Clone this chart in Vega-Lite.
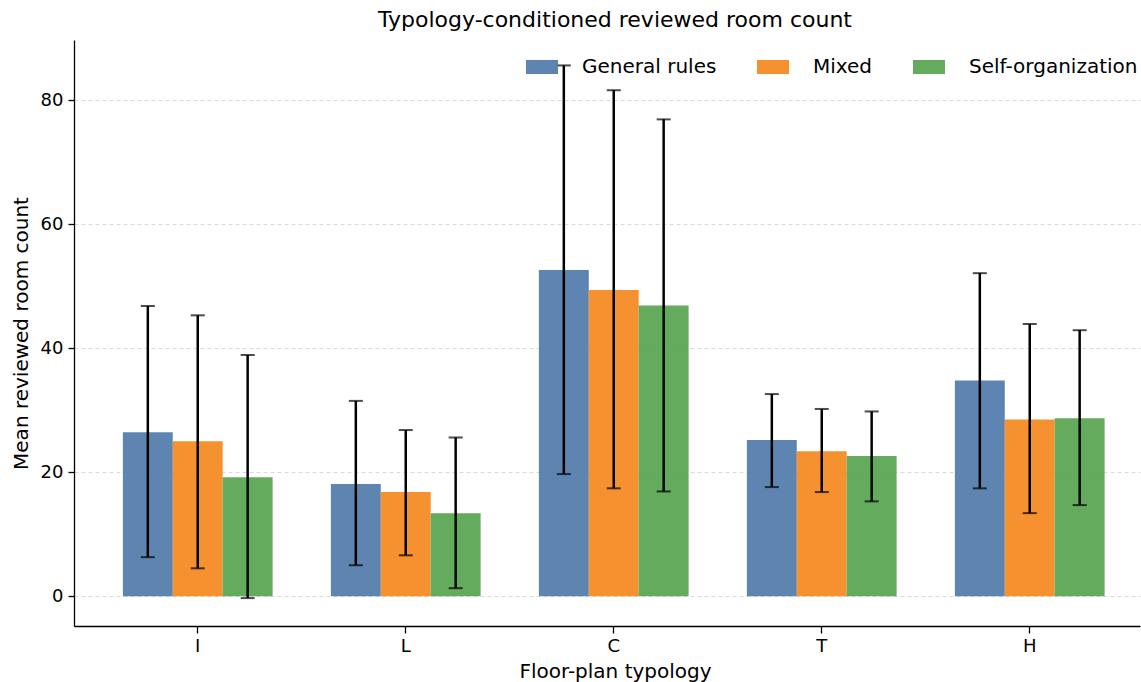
{
  "$schema": "https://vega.github.io/schema/vega-lite/v6.json",
  "width": 1066,
  "height": 586,
  "autosize": {"type": "none"},
  "padding": {"left": 74, "top": 40, "right": 1, "bottom": 56},
  "background": "white",
  "config": {
    "view": {"stroke": null},
    "font": "DejaVu Sans",
    "axis": {"labelFont": "DejaVu Sans", "titleFont": "DejaVu Sans", "labelColor": "#000", "titleColor": "#000", "domainColor": "#000", "tickColor": "#000", "titleFontWeight": "normal"},
    "legend": {"labelFont": "DejaVu Sans"}
  },
  "title": {"text": "Typology-conditioned reviewed room count", "fontSize": 22, "fontWeight": "normal", "font": "DejaVu Sans", "color": "#000", "offset": 8, "anchor": "middle", "dx": 8},
  "data": {
    "values": [
      {"typology": "I", "group": "General rules", "mean": 26.45, "lo": 6.3, "hi": 46.8},
      {"typology": "I", "group": "Mixed", "mean": 25.0, "lo": 4.5, "hi": 45.3},
      {"typology": "I", "group": "Self-organization", "mean": 19.2, "lo": -0.3, "hi": 38.9},
      {"typology": "L", "group": "General rules", "mean": 18.1, "lo": 5.0, "hi": 31.5},
      {"typology": "L", "group": "Mixed", "mean": 16.8, "lo": 6.6, "hi": 26.8},
      {"typology": "L", "group": "Self-organization", "mean": 13.4, "lo": 1.3, "hi": 25.6},
      {"typology": "C", "group": "General rules", "mean": 52.6, "lo": 19.7, "hi": 85.6},
      {"typology": "C", "group": "Mixed", "mean": 49.4, "lo": 17.4, "hi": 81.6},
      {"typology": "C", "group": "Self-organization", "mean": 46.9, "lo": 16.9, "hi": 76.9},
      {"typology": "T", "group": "General rules", "mean": 25.2, "lo": 17.6, "hi": 32.6},
      {"typology": "T", "group": "Mixed", "mean": 23.4, "lo": 16.8, "hi": 30.2},
      {"typology": "T", "group": "Self-organization", "mean": 22.6, "lo": 15.3, "hi": 29.8},
      {"typology": "H", "group": "General rules", "mean": 34.8, "lo": 17.4, "hi": 52.1},
      {"typology": "H", "group": "Mixed", "mean": 28.5, "lo": 13.4, "hi": 43.9},
      {"typology": "H", "group": "Self-organization", "mean": 28.7, "lo": 14.7, "hi": 42.9}
    ]
  },
  "encoding": {
    "x": {
      "field": "typology", "type": "nominal", "sort": ["I", "L", "C", "T", "H"],
      "scale": {"paddingInner": 0.28, "paddingOuter": 0.2025, "align": 0.58},
      "axis": {"title": "Floor-plan typology", "titleX": 541, "labelAngle": 0, "labelFontSize": 18, "titleFontSize": 20, "tickSize": 7, "labelPadding": 4, "titlePadding": 6, "grid": false, "domainWidth": 1.3, "tickWidth": 1.3}
    },
    "xOffset": {"field": "group", "type": "nominal", "sort": ["General rules", "Mixed", "Self-organization"], "scale": {"paddingInner": 0, "paddingOuter": 0}}
  },
  "layer": [
    {
      "mark": {"type": "bar", "opacity": 0.9},
      "encoding": {
        "y": {
          "field": "mean", "type": "quantitative",
          "scale": {"domain": [-4.8, 89.7], "nice": false, "zero": false},
          "axis": {"title": "Mean reviewed room count", "values": [0, 20, 40, 60, 80], "labelFontSize": 18, "titleFontSize": 20, "tickSize": 6, "labelPadding": 5, "titlePadding": 9, "grid": true, "gridColor": "#d0d0d0", "gridDash": [4, 3], "gridWidth": 0.8, "domainWidth": 1.3, "tickWidth": 1.3}
        },
        "color": {
          "field": "group", "type": "nominal",
          "scale": {"domain": ["General rules", "Mixed", "Self-organization"], "range": ["#4c78a8", "#f58518", "#54a24b"]},
          "legend": {
            "title": null, "orient": "none", "legendX": 452, "legendY": 11, "direction": "horizontal",
            "symbolType": "M-1,-0.44H1V0.44H-1Z", "symbolSize": 1024, "symbolOpacity": 0.9, "symbolStrokeWidth": 0,
            "labelFontSize": 20, "labelColor": "#000", "labelOffset": 24, "labelLimit": 400, "columnPadding": 40
          }
        }
      }
    },
    {
      "mark": {"type": "rule", "color": "#000", "strokeWidth": 2.5},
      "encoding": {
        "y": {"field": "lo", "type": "quantitative"},
        "y2": {"field": "hi"}
      }
    },
    {
      "mark": {"type": "tick", "color": "#000", "size": 14, "thickness": 2, "orient": "horizontal"},
      "encoding": {"y": {"field": "lo", "type": "quantitative"}}
    },
    {
      "mark": {"type": "tick", "color": "#000", "size": 14, "thickness": 2, "orient": "horizontal"},
      "encoding": {"y": {"field": "hi", "type": "quantitative"}}
    }
  ]
}
